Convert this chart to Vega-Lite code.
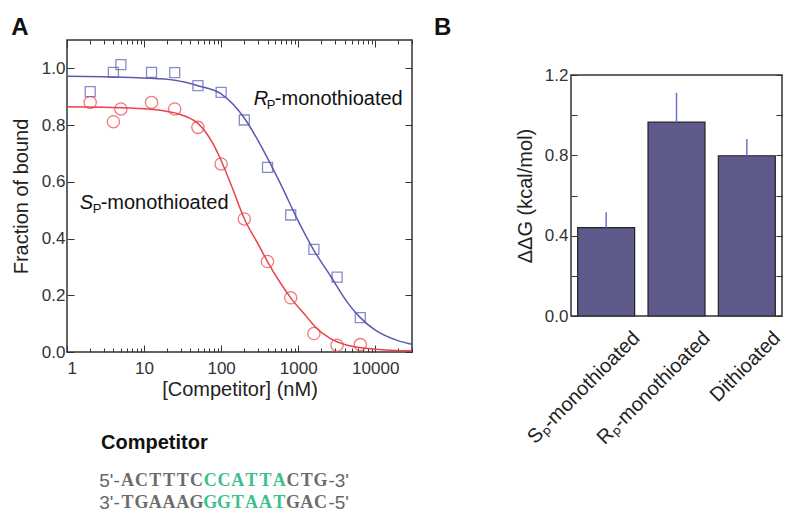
{
  "$schema": "https://vega.github.io/schema/vega-lite/v6.json",
  "padding": {"left": 10, "top": 14, "right": 5, "bottom": 5},
  "background": "white",
  "config": {
    "font": "Liberation Sans",
    "view": {"stroke": "#333", "strokeWidth": 1.5},
    "axis": {"domain": false, "grid": false, "tickColor": "#333", "tickWidth": 1, "labelColor": "#333", "titleColor": "#222", "labelFont": "Liberation Sans", "titleFont": "Liberation Sans", "titleFontWeight": "normal", "labelFontSize": 17, "titleFontSize": 20},
    "title": {"fontSize": 24, "fontWeight": "bold", "anchor": "start", "color": "#111", "font": "Liberation Sans"}
  },
  "datasets": {
    "curves": [
      {"series": "Rp", "conc": 1, "frac": 0.972}, {"series": "Rp", "conc": 3, "frac": 0.970}, {"series": "Rp", "conc": 10, "frac": 0.966}, {"series": "Rp", "conc": 25, "frac": 0.958}, {"series": "Rp", "conc": 50, "frac": 0.939}, {"series": "Rp", "conc": 100, "frac": 0.910}, {"series": "Rp", "conc": 200, "frac": 0.825}, {"series": "Rp", "conc": 355, "frac": 0.710}, {"series": "Rp", "conc": 580, "frac": 0.597}, {"series": "Rp", "conc": 1000, "frac": 0.462}, {"series": "Rp", "conc": 1570, "frac": 0.362}, {"series": "Rp", "conc": 2630, "frac": 0.268}, {"series": "Rp", "conc": 4330, "frac": 0.176}, {"series": "Rp", "conc": 6300, "frac": 0.123}, {"series": "Rp", "conc": 10000, "frac": 0.077}, {"series": "Rp", "conc": 19300, "frac": 0.041}, {"series": "Rp", "conc": 30000, "frac": 0.027},
      {"series": "Sp", "conc": 1, "frac": 0.865}, {"series": "Sp", "conc": 3, "frac": 0.863}, {"series": "Sp", "conc": 10, "frac": 0.858}, {"series": "Sp", "conc": 25, "frac": 0.843}, {"series": "Sp", "conc": 50, "frac": 0.806}, {"series": "Sp", "conc": 80, "frac": 0.730}, {"series": "Sp", "conc": 100, "frac": 0.675}, {"series": "Sp", "conc": 140, "frac": 0.578}, {"series": "Sp", "conc": 200, "frac": 0.470}, {"series": "Sp", "conc": 310, "frac": 0.375}, {"series": "Sp", "conc": 400, "frac": 0.319}, {"series": "Sp", "conc": 580, "frac": 0.246}, {"series": "Sp", "conc": 800, "frac": 0.191}, {"series": "Sp", "conc": 1300, "frac": 0.123}, {"series": "Sp", "conc": 1645, "frac": 0.090}, {"series": "Sp", "conc": 2630, "frac": 0.047}, {"series": "Sp", "conc": 4330, "frac": 0.024}, {"series": "Sp", "conc": 10000, "frac": 0.010}, {"series": "Sp", "conc": 30000, "frac": 0.004}
    ],
    "points": [
      {"series": "Rp", "conc": 2, "frac": 0.918}, {"series": "Rp", "conc": 4, "frac": 0.986}, {"series": "Rp", "conc": 5, "frac": 1.013}, {"series": "Rp", "conc": 12.5, "frac": 0.986}, {"series": "Rp", "conc": 25, "frac": 0.985}, {"series": "Rp", "conc": 50, "frac": 0.939}, {"series": "Rp", "conc": 100, "frac": 0.915}, {"series": "Rp", "conc": 200, "frac": 0.818}, {"series": "Rp", "conc": 400, "frac": 0.651}, {"series": "Rp", "conc": 800, "frac": 0.483}, {"series": "Rp", "conc": 1600, "frac": 0.362}, {"series": "Rp", "conc": 3200, "frac": 0.264}, {"series": "Rp", "conc": 6400, "frac": 0.121},
      {"series": "Sp", "conc": 2, "frac": 0.880}, {"series": "Sp", "conc": 4, "frac": 0.812}, {"series": "Sp", "conc": 5, "frac": 0.857}, {"series": "Sp", "conc": 12.5, "frac": 0.880}, {"series": "Sp", "conc": 25, "frac": 0.857}, {"series": "Sp", "conc": 50, "frac": 0.792}, {"series": "Sp", "conc": 100, "frac": 0.663}, {"series": "Sp", "conc": 200, "frac": 0.469}, {"series": "Sp", "conc": 400, "frac": 0.319}, {"series": "Sp", "conc": 800, "frac": 0.191}, {"series": "Sp", "conc": 1600, "frac": 0.065}, {"series": "Sp", "conc": 3200, "frac": 0.024}, {"series": "Sp", "conc": 6400, "frac": 0.026}
    ],
    "labels": [
      {"series": "Rp", "conc": 266, "frac": 0.870, "main": "R", "sub": "P", "rest": "-monothioated"},
      {"series": "Sp", "conc": 1.46, "frac": 0.505, "main": "S", "sub": "P", "rest": "-monothioated"}
    ],
    "bars": [
      {"variant": "Sₚ-monothioated", "ddg": 0.44, "upper": 0.516},
      {"variant": "Rₚ-monothioated", "ddg": 0.965, "upper": 1.112},
      {"variant": "Dithioated", "ddg": 0.798, "upper": 0.881}
    ],
    "seq": [
      {"strand": 1, "pos": 0, "base": "A", "region": "flank"}, {"strand": 1, "pos": 1, "base": "C", "region": "flank"}, {"strand": 1, "pos": 2, "base": "T", "region": "flank"}, {"strand": 1, "pos": 3, "base": "T", "region": "flank"}, {"strand": 1, "pos": 4, "base": "T", "region": "flank"}, {"strand": 1, "pos": 5, "base": "C", "region": "flank"}, {"strand": 1, "pos": 6, "base": "C", "region": "core"}, {"strand": 1, "pos": 7, "base": "C", "region": "core"}, {"strand": 1, "pos": 8, "base": "A", "region": "core"}, {"strand": 1, "pos": 9, "base": "T", "region": "core"}, {"strand": 1, "pos": 10, "base": "T", "region": "core"}, {"strand": 1, "pos": 11, "base": "A", "region": "core"}, {"strand": 1, "pos": 12, "base": "C", "region": "flank"}, {"strand": 1, "pos": 13, "base": "T", "region": "flank"}, {"strand": 1, "pos": 14, "base": "G", "region": "flank"},
      {"strand": 2, "pos": 0, "base": "T", "region": "flank"}, {"strand": 2, "pos": 1, "base": "G", "region": "flank"}, {"strand": 2, "pos": 2, "base": "A", "region": "flank"}, {"strand": 2, "pos": 3, "base": "A", "region": "flank"}, {"strand": 2, "pos": 4, "base": "A", "region": "flank"}, {"strand": 2, "pos": 5, "base": "G", "region": "flank"}, {"strand": 2, "pos": 6, "base": "G", "region": "core"}, {"strand": 2, "pos": 7, "base": "G", "region": "core"}, {"strand": 2, "pos": 8, "base": "T", "region": "core"}, {"strand": 2, "pos": 9, "base": "A", "region": "core"}, {"strand": 2, "pos": 10, "base": "A", "region": "core"}, {"strand": 2, "pos": 11, "base": "T", "region": "core"}, {"strand": 2, "pos": 12, "base": "G", "region": "flank"}, {"strand": 2, "pos": 13, "base": "A", "region": "flank"}, {"strand": 2, "pos": 14, "base": "C", "region": "flank"}
    ],
    "ends": [
      {"strand": 1, "side": "start", "pos": -0.5, "label": "5'-"},
      {"strand": 1, "side": "end", "pos": 14.5, "label": "-3'"},
      {"strand": 2, "side": "start", "pos": -0.5, "label": "3'-"},
      {"strand": 2, "side": "end", "pos": 14.5, "label": "-5'"}
    ]
  },
  "spacing": 20,
  "resolve": {"scale": {"x": "independent", "y": "independent", "color": "independent"}},
  "hconcat": [
    {
      "spacing": 33,
      "resolve": {"scale": {"x": "independent", "y": "independent", "color": "independent"}},
      "vconcat": [
        {
          "title": {"text": "A", "offset": 0},
          "width": 345,
          "height": 312,
          "resolve": {"axis": {"x": "independent", "y": "independent"}},
          "layer": [
            {
              "data": {"name": "curves"},
              "mark": {"type": "line", "interpolate": "monotone", "strokeWidth": 1.5, "clip": true},
              "encoding": {
                "x": {"field": "conc", "type": "quantitative", "scale": {"type": "log", "domain": [1, 30000]}, "axis": {"orient": "bottom", "values": [1, 10, 100, 1000, 10000], "format": "d", "title": "[Competitor] (nM)", "tickSize": -7, "labelPadding": 15, "titlePadding": 3}},
                "y": {"field": "frac", "type": "quantitative", "scale": {"domain": [0, 1.1]}, "axis": {"orient": "left", "values": [0, 0.2, 0.4, 0.6, 0.8, 1.0], "format": ".1f", "title": "Fraction of bound", "tickSize": -7, "labelPadding": 9, "titlePadding": 10}},
                "color": {"field": "series", "type": "nominal", "scale": {"domain": ["Rp", "Sp"], "range": ["#5a5ab4", "#e8434b"]}, "legend": null},
                "detail": {"field": "series"}
              }
            },
            {
              "data": {"name": "points"},
              "mark": {"type": "point", "filled": false, "strokeWidth": 1.3},
              "encoding": {
                "x": {"field": "conc", "type": "quantitative", "scale": {"type": "log", "domain": [1, 30000]}, "axis": {"orient": "bottom", "values": [2, 3, 4, 5, 6, 7, 8, 9, 20, 30, 40, 50, 60, 70, 80, 90, 200, 300, 400, 500, 600, 700, 800, 900, 2000, 3000, 4000, 5000, 6000, 7000, 8000, 9000, 20000, 30000], "labels": false, "title": null, "tickSize": -4}},
                "y": {"field": "frac", "type": "quantitative", "scale": {"domain": [0, 1.1]}, "axis": {"orient": "right", "values": [0, 0.2, 0.4, 0.6, 0.8, 1.0], "labels": false, "title": null, "tickSize": -7}},
                "shape": {"field": "series", "type": "nominal", "scale": {"domain": ["Rp", "Sp"], "range": ["square", "circle"]}, "legend": null},
                "size": {"field": "series", "type": "nominal", "scale": {"domain": ["Rp", "Sp"], "range": [100, 150]}, "legend": null},
                "color": {"field": "series", "type": "nominal", "scale": {"domain": ["Rp", "Sp"], "range": ["#5a5ab4", "#e8434b"]}, "legend": null}
              }
            },
            {
              "data": {"name": "labels"},
              "mark": {"type": "text", "fontStyle": "italic", "fontSize": 20, "align": "left", "baseline": "alphabetic", "color": "#111"},
              "encoding": {
                "x": {"field": "conc", "type": "quantitative", "scale": {"type": "log", "domain": [1, 30000]}, "axis": {"orient": "top", "values": [1, 10, 100, 1000, 10000], "labels": false, "title": null, "tickSize": -7}},
                "y": {"field": "frac", "type": "quantitative", "scale": {"domain": [0, 1.1]}, "axis": null},
                "text": {"field": "main"}
              }
            },
            {
              "data": {"name": "labels"},
              "mark": {"type": "text", "fontSize": 13, "align": "left", "baseline": "alphabetic", "dx": 13, "dy": 4, "color": "#111"},
              "encoding": {
                "x": {"field": "conc", "type": "quantitative", "scale": {"type": "log", "domain": [1, 30000]}, "axis": {"orient": "top", "values": [2, 3, 4, 5, 6, 7, 8, 9, 20, 30, 40, 50, 60, 70, 80, 90, 200, 300, 400, 500, 600, 700, 800, 900, 2000, 3000, 4000, 5000, 6000, 7000, 8000, 9000, 20000, 30000], "labels": false, "title": null, "tickSize": -4}},
                "y": {"field": "frac", "type": "quantitative", "scale": {"domain": [0, 1.1]}, "axis": null},
                "text": {"field": "sub"}
              }
            },
            {
              "data": {"name": "labels"},
              "mark": {"type": "text", "fontSize": 20, "align": "left", "baseline": "alphabetic", "dx": 21, "color": "#111"},
              "encoding": {
                "x": {"field": "conc", "type": "quantitative", "scale": {"type": "log", "domain": [1, 30000]}, "axis": null},
                "y": {"field": "frac", "type": "quantitative", "scale": {"domain": [0, 1.1]}, "axis": null},
                "text": {"field": "rest"}
              }
            }
          ]
        },
        {
          "width": 345,
          "height": 44,
          "view": {"stroke": null},
          "title": {"text": "Competitor", "fontSize": 20, "dx": 34, "offset": 17, "color": "#111"},
          "layer": [
            {
              "data": {"name": "seq"},
              "mark": {"type": "text", "font": "Liberation Serif", "fontWeight": "bold", "fontSize": 18, "align": "center", "baseline": "middle"},
              "encoding": {
                "x": {"field": "pos", "type": "quantitative", "scale": {"domain": [-4.4, 20.64]}, "axis": null},
                "y": {"field": "strand", "type": "quantitative", "scale": {"domain": [2.5, 0.5]}, "axis": null},
                "text": {"field": "base"},
                "color": {"field": "region", "type": "nominal", "scale": {"domain": ["flank", "core"], "range": ["#6c6c6c", "#3dbf8c"]}, "legend": null}
              }
            },
            {
              "data": {"name": "ends"},
              "transform": [{"filter": "datum.side == 'start'"}],
              "mark": {"type": "text", "fontSize": 19, "align": "right", "baseline": "middle", "color": "#666", "dx": -1},
              "encoding": {
                "x": {"field": "pos", "type": "quantitative", "scale": {"domain": [-4.4, 20.64]}, "axis": null},
                "y": {"field": "strand", "type": "quantitative", "scale": {"domain": [2.5, 0.5]}, "axis": null},
                "text": {"field": "label"}
              }
            },
            {
              "data": {"name": "ends"},
              "transform": [{"filter": "datum.side == 'end'"}],
              "mark": {"type": "text", "fontSize": 19, "align": "left", "baseline": "middle", "color": "#666", "dx": 1},
              "encoding": {
                "x": {"field": "pos", "type": "quantitative", "scale": {"domain": [-4.4, 20.64]}, "axis": null},
                "y": {"field": "strand", "type": "quantitative", "scale": {"domain": [2.5, 0.5]}, "axis": null},
                "text": {"field": "label"}
              }
            }
          ]
        }
      ]
    },
    {
      "spacing": 24,
      "resolve": {"scale": {"x": "independent", "y": "independent"}},
      "vconcat": [
        {
          "title": {"text": "B", "dx": -137, "offset": 0},
          "width": 211,
          "height": 1,
          "view": {"stroke": null},
          "data": {"values": []},
          "mark": "point"
        },
        {
          "width": 211,
          "height": 241,
          "data": {"name": "bars"},
          "resolve": {"axis": {"y": "independent"}},
          "layer": [
            {
              "mark": {"type": "bar", "color": "#5e5a8c", "stroke": "#222", "strokeWidth": 1.2},
              "encoding": {
                "x": {"field": "variant", "type": "nominal", "sort": null, "scale": {"paddingInner": 0.19, "paddingOuter": 0.095}, "axis": null},
                "y": {"field": "ddg", "type": "quantitative", "scale": {"domain": [0, 1.2]}, "axis": {"orient": "left", "values": [0, 0.2, 0.4, 0.6, 0.8, 1.0, 1.2], "labelExpr": "round(datum.value * 10) % 4 == 0 ? format(datum.value, '.1f') : ''", "title": "ΔΔG (kcal/mol)", "tickSize": -6, "labelPadding": 9, "titlePadding": 9}}
              }
            },
            {
              "mark": {"type": "rule", "color": "#7070c8", "strokeWidth": 1.5},
              "encoding": {
                "x": {"field": "variant", "type": "nominal", "sort": null, "axis": null},
                "y": {"field": "ddg", "type": "quantitative", "scale": {"domain": [0, 1.2]}, "axis": {"orient": "right", "values": [0, 0.2, 0.4, 0.6, 0.8, 1.0, 1.2], "labels": false, "title": null, "tickSize": -6}},
                "y2": {"field": "upper"}
              }
            },
            {
              "mark": {"type": "text", "angle": -45, "align": "right", "baseline": "top", "fontSize": 20, "color": "#222", "dx": 8, "dy": 25},
              "encoding": {
                "x": {"field": "variant", "type": "nominal", "sort": null, "axis": null},
                "y": {"datum": 0, "type": "quantitative", "axis": null},
                "text": {"field": "variant"}
              }
            }
          ]
        }
      ]
    }
  ]
}
